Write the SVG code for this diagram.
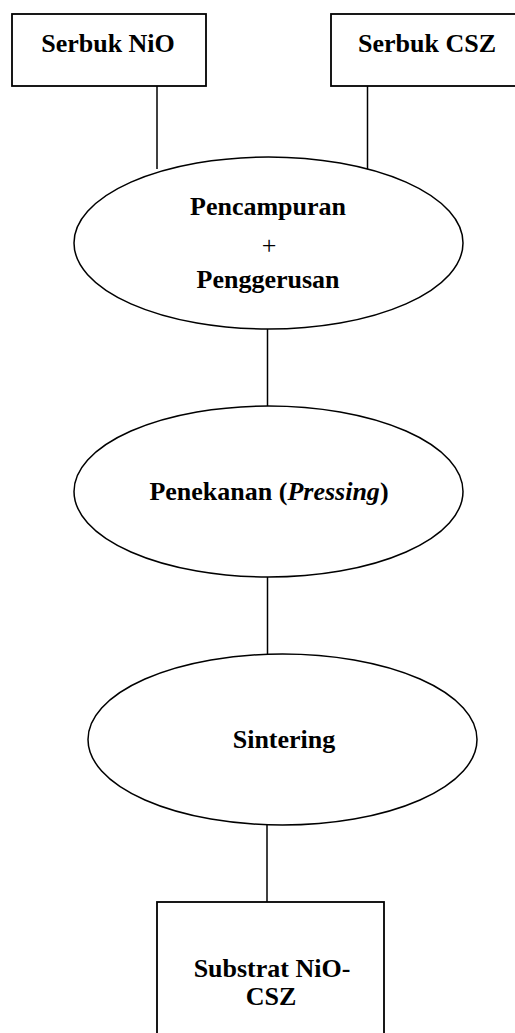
<svg xmlns="http://www.w3.org/2000/svg" width="515" height="1033" viewBox="0 0 515 1033">
<style>
.box{fill:#fff;stroke:#000;stroke-width:1.8}
.ell{fill:#fff;stroke:#000;stroke-width:1.5}
.con line{stroke:#000;stroke-width:1.5}
text{font-family:"Liberation Serif","Times New Roman",serif;font-size:26px;font-weight:bold;fill:#000}
.c{text-anchor:middle}
</style>
<rect width="515" height="1033" fill="#fff"/>
<g id="connectors" class="con">
<line x1="157" y1="86" x2="157" y2="169"/>
<line x1="367.5" y1="86" x2="367.5" y2="170"/>
<line x1="267.5" y1="329" x2="267.5" y2="406"/>
<line x1="267.5" y1="577" x2="267.5" y2="654"/>
<line x1="267" y1="825" x2="267" y2="902"/>
</g>
<g id="n1">
<rect class="box" x="12" y="14" width="194" height="72"/>
<text class="c" x="108" y="52">Serbuk NiO</text>
</g>
<g id="n2">
<rect class="box" x="331" y="14" width="200" height="72"/>
<text x="358" y="52">Serbuk CSZ</text>
</g>
<g id="n3">
<ellipse class="ell" cx="268.5" cy="243" rx="194.5" ry="86"/>
<text class="c" x="268" y="215">Pencampuran</text>
<text class="c" x="269" y="254" style="font-weight:normal">+</text>
<text class="c" x="268" y="288">Penggerusan</text>
</g>
<g id="n4">
<ellipse class="ell" cx="268.5" cy="491.5" rx="194.5" ry="85.5"/>
<text class="c" x="269" y="500">Penekanan (<tspan font-style="italic">Pressing</tspan>)</text>
</g>
<g id="n5">
<ellipse class="ell" cx="282.5" cy="739.5" rx="194.5" ry="85.5"/>
<text class="c" x="284" y="748">Sintering</text>
</g>
<g id="n6">
<rect class="box" x="157" y="902" width="227" height="150"/>
<text class="c" x="272" y="977">Substrat NiO-</text>
<text class="c" x="271" y="1005">CSZ</text>
</g>
</svg>
